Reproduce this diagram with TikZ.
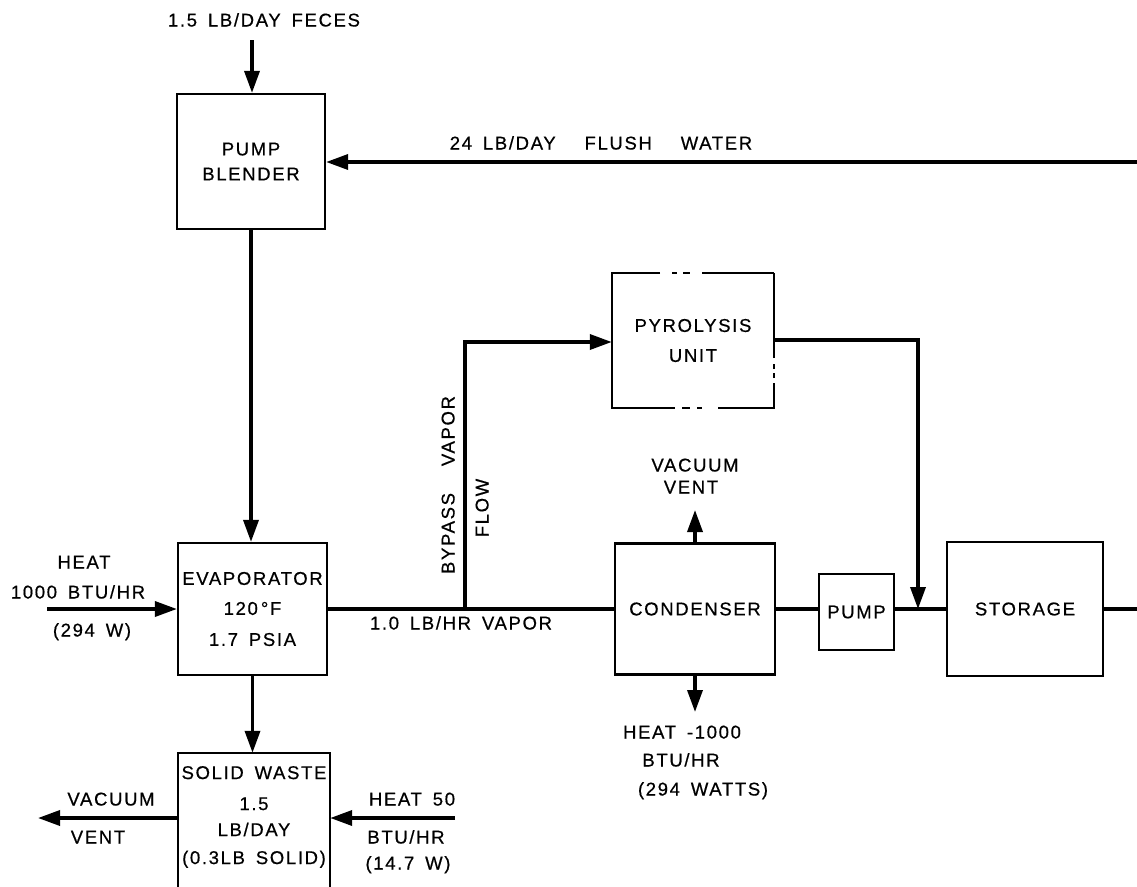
\documentclass[tikz,border=0pt]{standalone}
\usepackage{fontspec}
\setmainfont{Liberation Sans}[LetterSpace=9,WordSpace=1.6,FakeBold=0.6]
\usetikzlibrary{arrows.meta}
\newcommand\fsz{\fontsize{18.5}{28}\selectfont}
\begin{document}
\begin{tikzpicture}[x=1pt,y=-1pt,
 box/.style={draw,line width=2.2pt,inner sep=0pt,align=center,font=\fsz},
 lbl/.style={inner sep=0pt,font=\fsz,text height=13pt,text depth=0pt},
 conn/.style={line width=3.5pt},
 arr/.style={conn,-{Triangle[length=22pt,width=15pt]}},
 outl/.style={line width=2.2pt},
]
\useasboundingbox (0,0) rectangle (1137,886);

% boxes
\node[box,minimum width=148pt,minimum height=135pt] (blender) at (251,161.5) {PUMP\\[-3pt]BLENDER};
\node[box,minimum width=149pt,minimum height=132pt] (evap) at (252.5,609) {EVAPORATOR\\[2pt]120\,°F\\[3pt]1.7 PSIA};
\node[inner sep=0pt,align=center,font=\fsz,minimum width=152pt,minimum height=128pt] (solid) at (254,817) {SOLID WASTE\\[3pt]1.5\\[-2pt]LB/DAY\\(0.3LB SOLID)};
\node[inner sep=0pt,align=center,font=\fsz,minimum width=162pt,minimum height=135pt] (pyro) at (693,340.5) {PYROLYSIS\\[2pt]UNIT};
\node[box,minimum width=160pt,minimum height=131pt] (cond) at (695,609) {CONDENSER};
\node[box,minimum width=75pt,minimum height=76pt] (pump) at (856.5,612) {PUMP};
\node[box,minimum width=156pt,minimum height=134pt] (stor) at (1025,609) {STORAGE};

% pyrolysis outline with gaps
\draw[outl] (774,273) -- (702,273);
\draw[outl] (672,273) -- (677,273);
\draw[outl] (683,273) -- (690,273);
\draw[outl] (660,273) -- (612,273) -- (612,408) -- (675,408);
\draw[outl] (682,408) -- (690,408);
\draw[outl] (697,408) -- (702,408);
\draw[outl] (718,408) -- (774,408) -- (774,383);
\draw[outl] (774,378) -- (774,373);
\draw[outl] (774,369) -- (774,364);
\draw[outl] (774,358) -- (774,273);

% solid waste outline (open at the bottom)
\draw[outl] (solid.west |- 0,895) -- (solid.north west) -- (solid.north east) -- (solid.east |- 0,895);

% free ends
\coordinate (fecesIn) at (252,40);
\coordinate (flushIn) at (1140,162);
\coordinate (heatIn) at (47,609);
\coordinate (byp) at (465,609);
\coordinate (bypTop) at (465,342);
\coordinate (pyroCorner) at (918,340);
\coordinate (ventTop) at (695,510);
\coordinate (heatOut) at (695,712);
\coordinate (storOut) at (1140,609);
\coordinate (solidVent) at (38,818);
\coordinate (solidHeat) at (455,818);

% connectors
\draw[arr] (fecesIn) -- (fecesIn |- blender.north);
\draw[arr] (flushIn) -- (flushIn -| blender.east);
\draw[arr] (blender.south) -- (blender.south |- evap.north);
\draw[arr] (heatIn) -- (heatIn -| evap.west);
\draw[conn] (evap.east) -- (cond.west);
\draw[arr,line join=miter] (byp) -- (bypTop) -- (bypTop -| pyro.west);
\draw[arr,line join=miter] (pyro.east |- pyroCorner) -- (pyroCorner) -- (pyroCorner |- cond.east);
\draw[arr] (cond.north) -- (ventTop);
\draw[arr] (cond.south) -- (heatOut);
\draw[conn] (cond.east) -- (cond.east -| pump.west);
\draw[conn] (pump.east |- stor.west) -- (stor.west);
\draw[conn] (stor.east) -- (storOut);
\draw[arr] (evap.south) -- (evap.south |- solid.north);
\draw[arr] (solid.west |- solidVent) -- (solidVent);
\draw[arr] (solidHeat) -- (solidHeat -| solid.east);

% labels
\node[lbl] (fecesL) at (264,20) {1.5 LB/DAY FECES};
\node[lbl] (flushL) at (601,143) {24 LB/DAY\hspace{18pt} FLUSH\hspace{18pt} WATER};
\node[lbl] (heatL1) at (84,562) {HEAT};
\node[lbl] (heatL2) at (78,592) {1000 BTU/HR};
\node[lbl] (heatL3) at (92,630) {(294 W)};
\node[lbl] (vapL) at (461,623) {1.0 LB/HR VAPOR};
\node[lbl,rotate=90] (bypL) at (448,485) {BYPASS\hspace{16pt} VAPOR};
\node[lbl,rotate=90] (flowL) at (482,508) {FLOW};
\node[lbl] (cvL1) at (695,465) {VACUUM};
\node[lbl] (cvL2) at (691,487) {VENT};
\node[lbl] (chL1) at (682,732) {HEAT -1000};
\node[lbl] (chL2) at (681,760) {BTU/HR};
\node[lbl] (chL3) at (703,789) {(294 WATTS)};
\node[lbl] (svL1) at (111,799) {VACUUM};
\node[lbl] (svL2) at (98,837) {VENT};
\node[lbl] (shL1) at (412,799) {HEAT 50};
\node[lbl] (shL2) at (406,837) {BTU/HR};
\node[lbl] (shL3) at (408,863) {(14.7 W)};
\end{tikzpicture}
\end{document}
